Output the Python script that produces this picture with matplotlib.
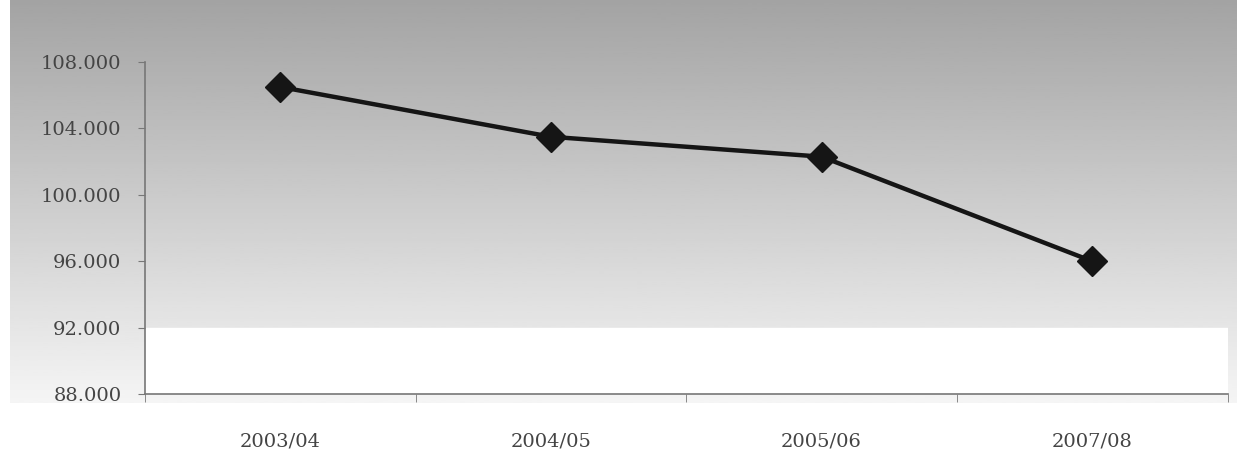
import numpy as np
import matplotlib
matplotlib.use('Agg')
import matplotlib.pyplot as plt

# data
periods = ['2003/04', '2004/05', '2005/06', '2007/08']
values = [106500, 103500, 102300, 96000]
yticks = [88000, 92000, 96000, 100000, 104000, 108000]
ytick_labels = ['88.000', '92.000', '96.000', '100.000', '104.000', '108.000']

plt.rcParams['font.family'] = ['DejaVu Serif']

fig = plt.figure(figsize=(12.45, 4.5), dpi=100)
fig.patch.set_facecolor('white')

# scanned grey gradient behind everything
bg = fig.add_axes([0.008, 0.105, 0.985, 0.895], zorder=0)
grad = np.linspace(0.64, 0.96, 200).reshape(-1, 1)
bg.imshow(grad, cmap='gray', vmin=0, vmax=1, aspect='auto',
          extent=[0, 1, 0, 1], origin='upper')
bg.axis('off')

ax = fig.add_axes([0.1165, 0.1244, 0.8695, 0.7376], zorder=1)
ax.patch.set_alpha(0)

x = np.arange(len(periods))
ax.axhspan(88000, 92000, color='white', zorder=0)
ax.plot(x, values, color='#151515', linewidth=3.2, marker='D',
        markersize=15, zorder=3)

ax.set_xlim(-0.5, len(periods) - 0.5)
ax.set_ylim(88000, 108000)
ax.set_yticks(yticks)
ax.set_yticklabels(ytick_labels)
ax.set_xticks(x)
ax.set_xticklabels(periods)
ax.set_xticks(np.arange(-0.5, len(periods)), minor=True)

ax.tick_params(axis='x', which='major', length=0, pad=28,
               labelsize=14, labelcolor='#444444')
ax.tick_params(axis='x', which='minor', length=6, color='#777777',
               direction='out')
ax.tick_params(axis='y', length=5, color='#777777', direction='out',
               labelsize=14, labelcolor='#444444', pad=12)

for s in ['top', 'right']:
    ax.spines[s].set_visible(False)
for s in ['left', 'bottom']:
    ax.spines[s].set_color('#777777')
    ax.spines[s].set_linewidth(1.2)

fig.savefig('out.png', dpi=100)
